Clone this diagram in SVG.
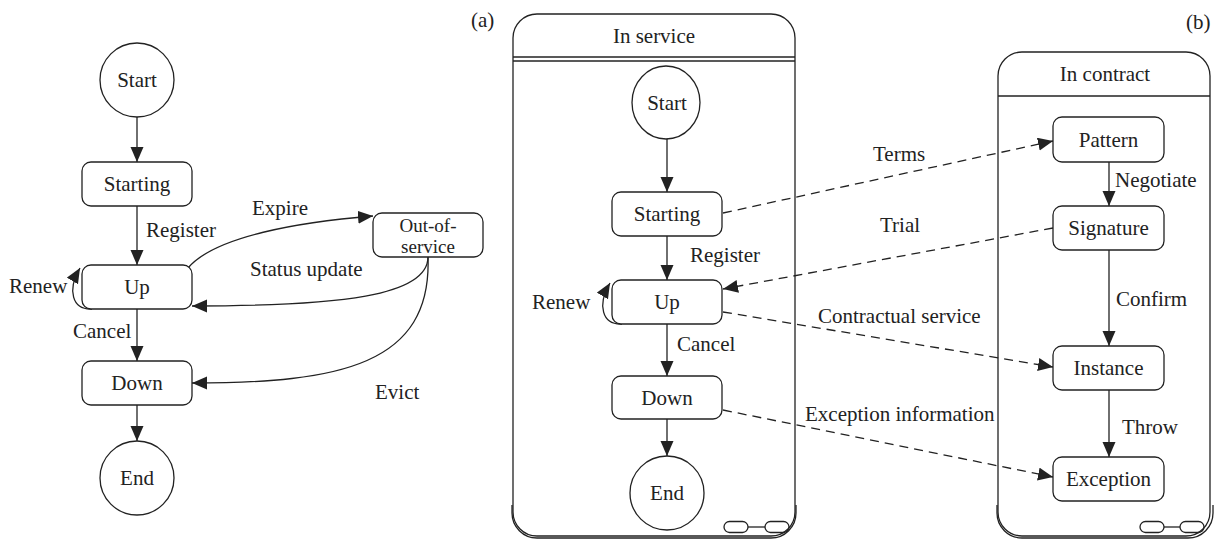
<svg xmlns="http://www.w3.org/2000/svg" width="1214" height="539" viewBox="0 0 1214 539">
<style>
text{font-family:"Liberation Serif","Times New Roman","DejaVu Serif",serif;font-size:21px;fill:#222}
.c{text-anchor:middle}
.s{font-size:19px}
.n{fill:#fff;stroke:#222;stroke-width:1.3}
.k{fill:none;stroke:#222;stroke-width:1.3}
.e{fill:none;stroke:#222;stroke-width:1.3;marker-end:url(#ah)}
.d{fill:none;stroke:#222;stroke-width:1.3;stroke-dasharray:9 6;marker-end:url(#ah)}
</style>
<defs>
<marker id="ah" markerUnits="userSpaceOnUse" markerWidth="16" markerHeight="14" refX="15" refY="6.5" orient="auto">
<path d="M0,0 L15,6.5 L0,13 z" fill="#222"/>
</marker>
</defs>
<rect width="1214" height="539" fill="#fff"/>
<text x="471" y="27">(a)</text>
<text x="1186" y="29">(b)</text>
<g id="container-in-service">
<path class="k" d="M512 505 L512 513 A25 25 0 0 0 537 538 L771 538 A25 25 0 0 0 796 513 L796 505"/>
<rect class="n" x="513" y="14" width="282" height="522" rx="24"/>
<line class="k" x1="513" y1="57" x2="795" y2="57"/>
<line class="k" x1="513" y1="61" x2="795" y2="61"/>
<text class="c" x="654" y="43">In service</text>
<rect class="k" x="724" y="521.5" width="24" height="11" rx="5.5"/>
<rect class="k" x="765" y="521.5" width="24" height="11" rx="5.5"/>
<line class="k" x1="748" y1="527" x2="765" y2="527"/>
</g>
<g id="container-in-contract">
<path class="k" d="M997 505 L997 513 A25 25 0 0 0 1022 538 L1188 538 A25 25 0 0 0 1213 513 L1213 505"/>
<rect class="n" x="998" y="52" width="212" height="484" rx="24"/>
<line class="k" x1="998" y1="96" x2="1210" y2="96"/>
<text class="c" x="1105" y="81">In contract</text>
<rect class="k" x="1140" y="521.5" width="24" height="11" rx="5.5"/>
<rect class="k" x="1180" y="521.5" width="24" height="11" rx="5.5"/>
<line class="k" x1="1164" y1="527" x2="1180" y2="527"/>
</g>
<g id="connectors">
<line class="e" x1="137" y1="117" x2="137" y2="162"/>
<line class="e" x1="137" y1="206" x2="137" y2="265"/>
<line class="e" x1="137" y1="309" x2="137" y2="361"/>
<line class="e" x1="137" y1="405" x2="137" y2="441"/>
<path class="e" d="M92 309 C72 310 67 290 80 268"/>
<path class="e" d="M188 268 C215 236 300 222 373 216"/>
<path class="e" d="M428 257 C428 296 340 306 192 306"/>
<path class="e" d="M428 257 C432 365 340 383 192 383"/>
<line class="e" x1="667" y1="139" x2="667" y2="192"/>
<line class="e" x1="667" y1="236" x2="667" y2="280"/>
<line class="e" x1="667" y1="324" x2="667" y2="376"/>
<line class="e" x1="667" y1="419" x2="667" y2="456"/>
<path class="e" d="M622 324 C602 325 597 305 610 283"/>
<line class="e" x1="1109" y1="162" x2="1109" y2="206"/>
<line class="e" x1="1109" y1="250" x2="1109" y2="346"/>
<line class="e" x1="1109" y1="390" x2="1109" y2="457"/>
<line class="d" x1="723" y1="213" x2="1053" y2="141"/>
<line class="d" x1="1053" y1="228" x2="723" y2="289"/>
<line class="d" x1="723" y1="312" x2="1053" y2="367"/>
<line class="d" x1="723" y1="410" x2="1053" y2="477"/>
<text x="146" y="237">Register</text>
<text x="73" y="338">Cancel</text>
<text x="9" y="293">Renew</text>
<text x="252" y="215">Expire</text>
<text x="250" y="276">Status update</text>
<text x="375" y="399">Evict</text>
<text x="690" y="262">Register</text>
<text x="677" y="351">Cancel</text>
<text x="532" y="309">Renew</text>
<text x="873" y="161">Terms</text>
<text x="880" y="232">Trial</text>
<text x="818" y="323">Contractual service</text>
<text x="805" y="421">Exception information</text>
<text x="1115" y="187">Negotiate</text>
<text x="1116" y="306">Confirm</text>
<text x="1122" y="434">Throw</text>
</g>
<g id="a-start"><circle class="n" cx="137" cy="80" r="37"/><text class="c" x="137" y="87">Start</text></g>
<g id="a-starting"><rect class="n" x="82" y="162" width="110" height="44" rx="9"/><text class="c" x="137" y="191">Starting</text></g>
<g id="a-up"><rect class="n" x="82" y="265" width="110" height="44" rx="9"/><text class="c" x="137" y="294">Up</text></g>
<g id="a-down"><rect class="n" x="82" y="361" width="110" height="44" rx="9"/><text class="c" x="137" y="390">Down</text></g>
<g id="a-end"><circle class="n" cx="137" cy="478" r="37"/><text class="c" x="137" y="485">End</text></g>
<g id="a-out-of-service"><rect class="n" x="373" y="213" width="110" height="44" rx="9"/><text class="c s" x="428" y="232">Out-of-</text><text class="c s" x="428" y="253">service</text></g>
<g id="b-start"><ellipse class="n" cx="666" cy="102.5" rx="34" ry="36.5"/><text class="c" x="667" y="110">Start</text></g>
<g id="b-starting"><rect class="n" x="612" y="192" width="110" height="44" rx="9"/><text class="c" x="667" y="221">Starting</text></g>
<g id="b-up"><rect class="n" x="612" y="280" width="110" height="44" rx="9"/><text class="c" x="667" y="309">Up</text></g>
<g id="b-down"><rect class="n" x="612" y="376" width="110" height="43" rx="9"/><text class="c" x="667" y="405">Down</text></g>
<g id="b-end"><circle class="n" cx="667" cy="493" r="37"/><text class="c" x="667" y="500">End</text></g>
<g id="b-pattern"><rect class="n" x="1053" y="117" width="111" height="45" rx="9"/><text class="c" x="1108.5" y="147">Pattern</text></g>
<g id="b-signature"><rect class="n" x="1053" y="206" width="111" height="44" rx="9"/><text class="c" x="1108.5" y="235">Signature</text></g>
<g id="b-instance"><rect class="n" x="1053" y="346" width="111" height="44" rx="9"/><text class="c" x="1108.5" y="375">Instance</text></g>
<g id="b-exception"><rect class="n" x="1053" y="457" width="111" height="44" rx="9"/><text class="c" x="1108.5" y="486">Exception</text></g>
</svg>
